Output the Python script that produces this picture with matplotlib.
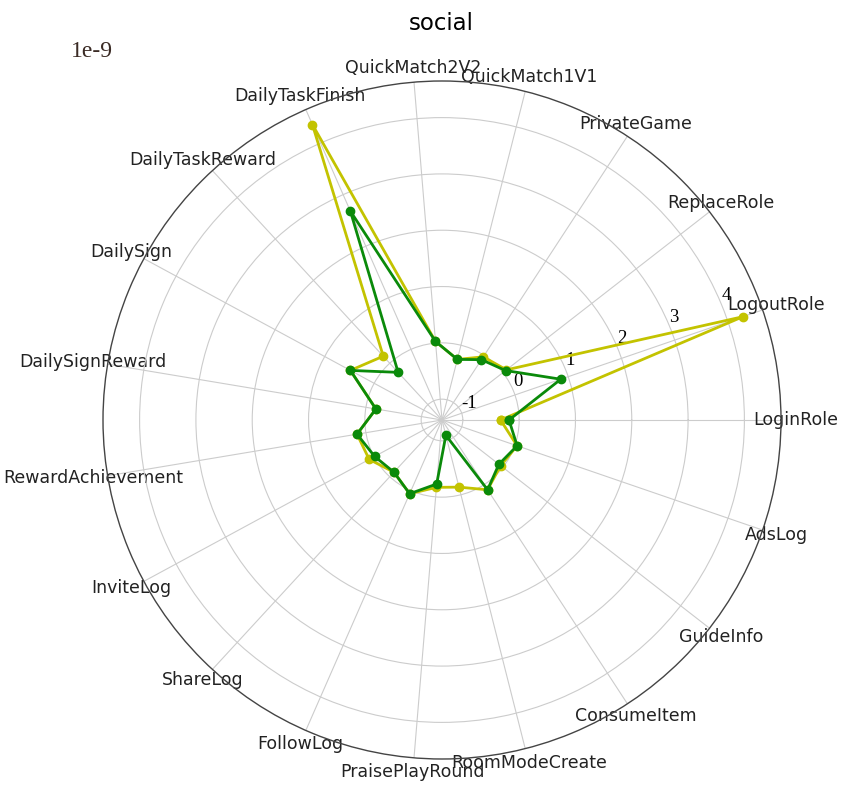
import matplotlib
matplotlib.use("Agg")
import matplotlib.pyplot as plt
import numpy as np

categories = [
    "LoginRole", "LogoutRole", "ReplaceRole", "PrivateGame", "QuickMatch1V1",
    "QuickMatch2V2", "DailyTaskFinish", "DailyTaskReward", "DailySign",
    "DailySignReward", "RewardAchievement", "InviteLog", "ShareLog",
    "FollowLog", "PraisePlayRound", "RoomModeCreate", "ConsumeItem",
    "GuideInfo", "AdsLog",
]

# values in units of 1e-9
yellow_vals = [-0.33, 4.28, 0.08, -0.03, -0.26, 0.03, 4.36, 0.17, 0.48, -0.18,
               0.16, 0.10, -0.11, 0.06, -0.17, -0.14, 0.11, -0.05, 0.04]
green_vals = [-0.18, 0.86, 0.06, -0.09, -0.26, 0.03, 2.68, -0.22, 0.48, -0.18,
              0.16, -0.01, -0.11, 0.06, -0.23, -1.09, 0.11, -0.09, 0.04]
r_ticks = [-1, 0, 1, 2, 3, 4]

n = len(categories)
angles = np.linspace(0, 2 * np.pi, n, endpoint=False)
ang_closed = np.append(angles, angles[0])

fig = plt.figure(figsize=(8.42, 7.91), dpi=100)
ax = fig.add_axes([103 / 842, 1 - 759 / 791, 678 / 842, 678 / 791], projection="polar")

for vals, col in [(yellow_vals, "#c3c300"), (green_vals, "#0a8a0a")]:
    v = np.append(vals, vals[0])
    ax.plot(ang_closed, v, color=col, lw=2, marker="o", ms=6)

ax.set_rlim(-1.37, 4.65)
ax.set_rticks(r_ticks)
ax.set_yticklabels([str(t) for t in r_ticks], fontfamily="Liberation Serif", fontsize=13.5)
ax.set_rlabel_position(22.5)
ax.set_xticks(angles)
ax.set_xticklabels(categories, fontsize=12.5, color="#222222")
ax.tick_params(axis="x", pad=0)
ax.grid(color="#cccccc", lw=0.8)
ax.spines["polar"].set_color("#444444")
ax.spines["polar"].set_linewidth(1.0)

fig.text(71 / 842, 1 - 57 / 791, "1e-9", fontfamily="Liberation Serif",
         fontsize=17, color="#3b2b25")
fig.suptitle("social", x=441 / 842, y=1 - 12 / 791, va="top", fontsize=16.5)

fig.savefig("out.png", dpi=100)
